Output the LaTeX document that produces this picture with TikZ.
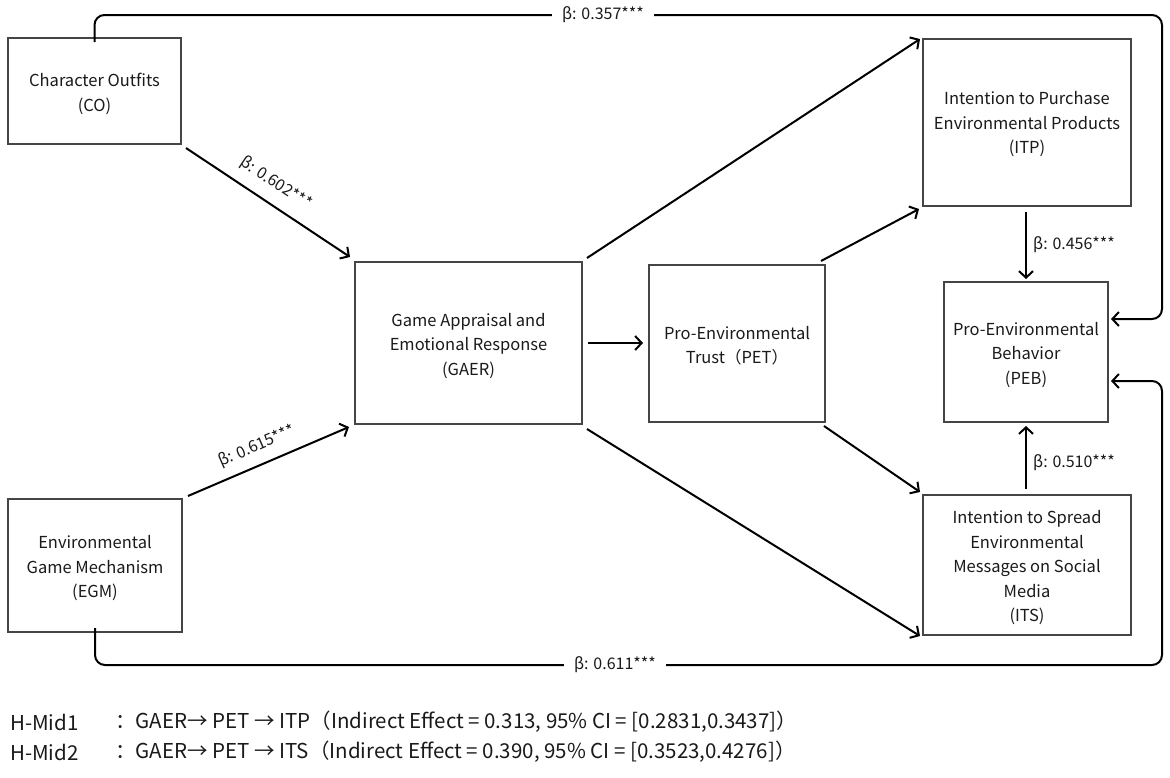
\documentclass[tikz,border=0pt]{standalone}
\usepackage{fontspec}
\setmainfont{Noto Sans CJK SC}
\usetikzlibrary{arrows.meta}
\definecolor{boxgray}{HTML}{454545}
\definecolor{txt}{HTML}{1A1A1A}
\begin{document}
\begin{tikzpicture}[x=1pt,y=-1pt,
  box/.style={draw=boxgray,line width=2pt,inner sep=0pt},
  boxtext/.style={align=center,inner sep=0pt,text=txt,font=\fontsize{16.5}{24.5}\selectfont},
  conn/.style={line width=2pt,-{Straight Barb[length=6.5pt,width=14pt,line width=2pt]}},
  loopline/.style={conn,rounded corners=10pt},
  lbl/.style={font=\fontsize{16}{18}\selectfont,text=txt,inner sep=0pt},
  gaplbl/.style={lbl,fill=white,inner xsep=10pt,inner ysep=2pt},
  note/.style={font=\fontsize{20.5}{22}\selectfont,text=txt,inner sep=0pt,anchor=west}]
\useasboundingbox[fill=white] (0,0) rectangle (1170,777);

\node[box,minimum width=173pt,minimum height=106pt] (co) at (94.5,91) {};
\node[box,minimum width=174pt,minimum height=133pt] (egm) at (95,565.5) {};
\node[box,minimum width=227pt,minimum height=162pt] (gaer) at (468.5,343) {};
\node[box,minimum width=176pt,minimum height=157pt] (pet) at (737,343.5) {};
\node[box,minimum width=208pt,minimum height=167pt] (itp) at (1027,122.5) {};
\node[box,minimum width=164pt,minimum height=140pt] (peb) at (1026,352) {};
\node[box,minimum width=208pt,minimum height=140pt] (its) at (1027,565) {};

\node[boxtext] (co-t) at ([shift={(0,3)}]co.center) {Character Outfits\\(CO)};
\node[boxtext] (egm-t) at ([shift={(0,3)}]egm.center) {Environmental\\Game Mechanism\\(EGM)};
\node[boxtext] (gaer-t) at ([shift={(0,3)}]gaer.center) {Game Appraisal and\\Emotional Response\\(GAER)};
\node[boxtext] (pet-t) at ([shift={(0,2)}]pet.center) {Pro-Environmental\\Trust（PET）};
\node[boxtext] (itp-t) at ([shift={(0,2)}]itp.center) {Intention to Purchase\\Environmental Products\\(ITP)};
\node[boxtext] (peb-t) at ([shift={(0,3)}]peb.center) {Pro-Environmental\\Behavior\\(PEB)};
\node[boxtext] (its-t) at ([shift={(0,3)}]its.center) {Intention to Spread\\Environmental\\Messages on Social\\Media\\(ITS)};

% straight connectors
\draw[conn] ([shift={(4,3)}]co.south east) -- ([shift={(-4,-4)}]gaer.north west);
\draw[conn] ([shift={(5,-2)}]egm.north east) -- ([shift={(-5,2)}]gaer.south west);
\draw[conn] ([shift={(4,-3)}]gaer.north east) -- ([shift={(-2,1)}]itp.north west);
\draw[conn] ([xshift=5pt]gaer.east) -- ([xshift=-5pt]gaer.east -| pet.west);
\draw[conn] ([shift={(4,4)}]gaer.south east) -- ([shift={(-2,0)}]its.south west);
\draw[conn] ([shift={(-5,-3)}]pet.north east) -- ([shift={(-3,2)}]itp.south west);
\draw[conn] ([shift={(-2,3)}]pet.south east) -- ([shift={(-2,-2)}]its.north west);
\draw[conn] ([yshift=-5pt]itp.south -| peb.north) -- ([yshift=2pt]peb.north);
\draw[conn] ([yshift=5pt]its.north -| peb.south) -- ([yshift=-3pt]peb.south);

% loops
\coordinate (topright) at (1162,15);
\coordinate (botright) at (1162,665);
\coordinate (pebintop) at ([shift={(2,-33)}]peb.east);
\coordinate (pebinbot) at ([shift={(2,29)}]peb.east);
\draw[loopline] ([yshift=-5pt]co.north) |- (topright) |- (pebintop);
\draw[loopline] ([yshift=5pt]egm.south) |- (botright) |- (pebinbot);

% labels
\node[gaplbl] (l357) at (603,15) {β: 0.357***};
\node[gaplbl] (l611) at (615,665) {β: 0.611***};
\node[lbl,rotate=-33.6] (l602) at (276,183) {β: 0.602***};
\node[lbl,rotate=23.5] (l615) at (257,446) {β: 0.615***};
\node[lbl,anchor=west] (l456) at (1033,245) {β: 0.456***};
\node[lbl,anchor=west] (l510) at (1033,463) {β: 0.510***};

% notes
\node[note] (h1) at (10,722) {H-Mid1};
\node[note] (h1t) at (115,722) {：GAER→ PET → ITP（Indirect Effect = 0.313, 95\% CI = [0.2831,0.3437]）};
\node[note] (h2) at (10,752) {H-Mid2};
\node[note] (h2t) at (115,752) {：GAER→ PET → ITS（Indirect Effect = 0.390, 95\% CI = [0.3523,0.4276]）};
\end{tikzpicture}
\end{document}
